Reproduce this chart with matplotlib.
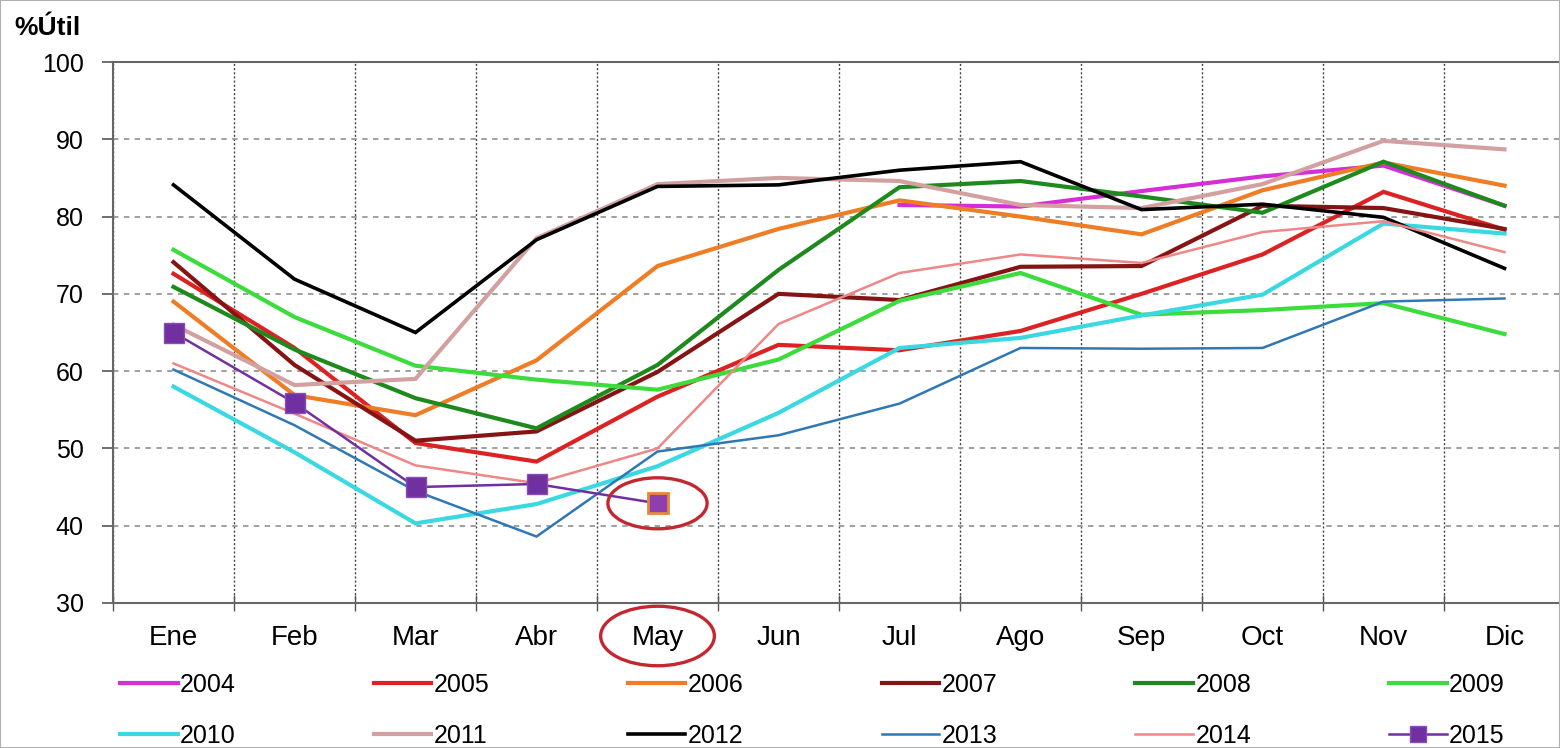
import numpy as np
import matplotlib
matplotlib.use("Agg")
import matplotlib.pyplot as plt
from matplotlib.patches import Ellipse, Rectangle
import matplotlib.transforms as mtransforms

plt.rcParams['font.family'] = ['Liberation Sans', 'DejaVu Sans']

# month labels and yearly utilisation (%)
months = ['Ene', 'Feb', 'Mar', 'Abr', 'May', 'Jun', 'Jul', 'Ago', 'Sep', 'Oct', 'Nov', 'Dic']
nan = np.nan
y2004 = [nan, nan, nan, nan, nan, nan, 81.5, 81.3, 83.3, 85.2, 86.6, 81.4]
y2005 = [72.6, 63.0, 50.7, 48.3, 56.7, 63.4, 62.7, 65.2, 70.0, 75.1, 83.2, 78.3]
y2006 = [69.0, 56.9, 54.3, 61.4, 73.6, 78.4, 82.1, 80.0, 77.7, 83.4, 87.0, 84.0]
y2007 = [74.1, 60.8, 51.0, 52.2, 59.9, 70.0, 69.2, 73.5, 73.6, 81.4, 81.1, 78.4]
y2008 = [70.9, 62.8, 56.5, 52.6, 60.8, 73.1, 83.8, 84.6, 82.6, 80.5, 87.1, 81.4]
y2009 = [75.7, 67.0, 60.7, 58.9, 57.6, 61.5, 69.1, 72.7, 67.3, 67.9, 68.8, 64.8]
y2010 = [58.0, 49.5, 40.3, 42.8, 47.7, 54.6, 63.0, 64.3, 67.2, 69.9, 79.1, 77.8]
y2011 = [66.0, 58.2, 59.0, 77.2, 84.2, 85.0, 84.6, 81.5, 81.1, 84.2, 89.8, 88.7]
y2012 = [84.1, 71.9, 65.0, 77.0, 83.9, 84.1, 86.0, 87.1, 80.9, 81.6, 79.9, 73.3]
y2013 = [60.2, 53.0, 44.5, 38.6, 49.6, 51.7, 55.8, 63.0, 62.9, 63.0, 69.0, 69.4]
y2014 = [61.0, 54.5, 47.8, 45.5, 50.0, 66.1, 72.7, 75.1, 74.0, 78.0, 79.4, 75.4]
y2015 = [65.0, 55.9, 45.0, 45.4, 42.9, nan, nan, nan, nan, nan, nan, nan]

series = [
    ('2004', y2004, '#d62ed6', 3.0),
    ('2005', y2005, '#dc2222', 3.0),
    ('2006', y2006, '#ee7d26', 3.0),
    ('2007', y2007, '#861414', 3.0),
    ('2008', y2008, '#1e8a1e', 3.0),
    ('2009', y2009, '#3cdc3c', 3.0),
    ('2010', y2010, '#3ad8e0', 3.0),
    ('2011', y2011, '#d3a0a0', 3.0),
    ('2012', y2012, '#000000', 2.6),
    ('2013', y2013, '#2f78b5', 1.8),
    ('2014', y2014, '#ee8787', 1.8),
]

fig = plt.figure(figsize=(15.6, 7.48), dpi=100)
fig.patches.append(Rectangle((0, 0), 1, 1, transform=fig.transFigure,
                             fill=False, edgecolor='#b0b0b0', lw=1.5))
ax = fig.add_axes([113 / 1560, 1 - 603 / 748, 1452 / 1560, 541 / 748])

x = np.arange(len(months))
for label, vals, color, lw in series:
    ax.plot(x, vals, color=color, lw=lw, label=label, solid_joinstyle='miter')

ax.plot(x, y2015, color='#7030a0', lw=1.8, marker='s', markersize=15,
        markerfacecolor='#7030a0', markeredgecolor='#8a4db8', label='2015', zorder=5)
last = int(np.where(~np.isnan(y2015))[0][-1])
ax.plot(x[last], y2015[last], marker='s', markersize=15, markerfacecolor='#8e3fae',
        markeredgecolor='#e8873a', markeredgewidth=2, ls='none', zorder=6)

# red highlight circles
ax.add_patch(Ellipse((x[last], y2015[last]), 0.82, 6.6, fill=False,
                     edgecolor='#c3272f', lw=2.4, zorder=7))
trans = mtransforms.blended_transform_factory(ax.transData, ax.transAxes)
ax.add_patch(Ellipse((x[last], -0.061), 0.94, 0.11, transform=trans, fill=False,
                     edgecolor='#c3272f', lw=2.4, clip_on=False, zorder=7))

ax.set_xlim(-0.5, 11.5)
ax.set_ylim(30, 100)
ax.set_yticks(np.arange(30, 101, 10))
ax.tick_params(axis='y', labelsize=18, length=8, width=1.2, color='#555555', pad=13)

ax.set_xticks(np.arange(-0.5, 12, 1))
ax.set_xticklabels([])
ax.set_xticks(x, minor=True)
ax.set_xticklabels(months, minor=True, fontsize=20)
ax.tick_params(axis='x', which='major', direction='inout', length=12, width=1,
               color='#555555')
ax.tick_params(axis='x', which='minor', length=0, pad=16)

ax.grid(axis='y', ls=(0, (3, 3)), color='#999999', lw=1.3)
ax.grid(axis='x', which='major', ls=(0, (1.5, 1.5)), color='#444444', lw=1.0)
for s in ['left', 'bottom', 'top']:
    ax.spines[s].set_color('#666666')
    ax.spines[s].set_linewidth(1.5)
ax.spines['right'].set_visible(False)

fig.text(14 / 1560, 1 - 28 / 748, '%Útil', fontsize=19, fontweight='bold', va='center')

# legend fills column by column, so interleave to read row by row
handles, labels = ax.get_legend_handles_labels()
ncol = 6
order = [r * ncol + c for c in range(ncol) for r in range(2)]
fig.legend([handles[i] for i in order], [labels[i] for i in order], ncol=ncol,
           loc='upper left',
           bbox_to_anchor=(120 / 1560, 0.0, 1385 / 1560, 1 - 673 / 748),
           mode='expand', frameon=False, fontsize=18, handlelength=2.3,
           handletextpad=0.1, labelspacing=1.08, borderaxespad=0, borderpad=0,
           markerscale=0.75)

fig.savefig('out.png', dpi=100)
